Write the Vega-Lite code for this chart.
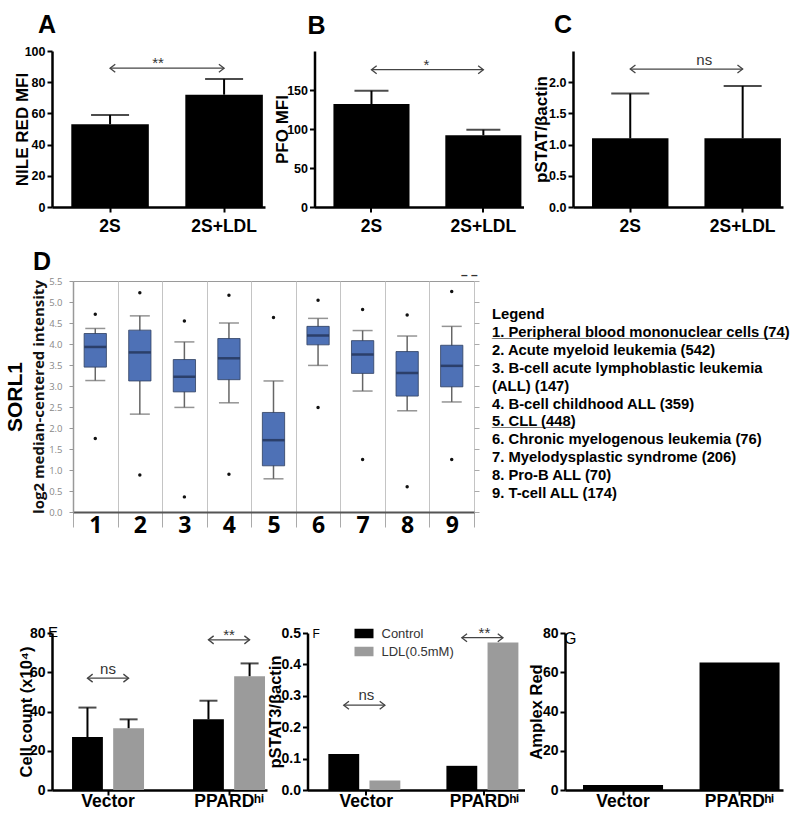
{
  "$schema": "https://vega.github.io/schema/vega-lite/v6.json",
  "background": "white",
  "padding": {"left": 3, "top": 13, "right": 0, "bottom": 0},
  "autosize": {"type": "pad"},
  "datasets": {
    "dA": [{"g": "2S", "v": 53, "hi": 59}, {"g": "2S+LDL", "v": 72, "hi": 82}],
    "aA": [{"g": "2S", "y": 89, "end": "L"}, {"g": "2S+LDL", "y": 89, "end": "R"}],
    "tA": [{"g": "2S", "y": 89, "s": "**"}],
    "dB": [{"g": "2S", "v": 132, "hi": 149}, {"g": "2S+LDL", "v": 92, "hi": 99}],
    "aB": [{"g": "2S", "y": 176, "end": "L"}, {"g": "2S+LDL", "y": 176, "end": "R"}],
    "tB": [{"g": "2S", "y": 176, "s": "*"}],
    "dC": [{"g": "2S", "v": 1.1, "hi": 1.82}, {"g": "2S+LDL", "v": 1.1, "hi": 1.94}],
    "aC": [{"g": "2S", "y": 2.21, "end": "L"}, {"g": "2S+LDL", "y": 2.21, "end": "R"}],
    "tC": [{"g": "2S", "y": 2.27, "s": "ns"}],
    "box": [
      {"c": "1", "lo": 3.13, "q1": 3.45, "med": 3.93, "q3": 4.25, "hi": 4.37},
      {"c": "2", "lo": 2.33, "q1": 3.12, "med": 3.8, "q3": 4.33, "hi": 4.67},
      {"c": "3", "lo": 2.49, "q1": 2.86, "med": 3.22, "q3": 3.63, "hi": 4.05},
      {"c": "4", "lo": 2.6, "q1": 3.15, "med": 3.66, "q3": 4.13, "hi": 4.5},
      {"c": "5", "lo": 0.79, "q1": 1.1, "med": 1.71, "q3": 2.37, "hi": 3.12},
      {"c": "6", "lo": 3.49, "q1": 3.98, "med": 4.2, "q3": 4.42, "hi": 4.61},
      {"c": "7", "lo": 2.88, "q1": 3.3, "med": 3.75, "q3": 4.08, "hi": 4.32},
      {"c": "8", "lo": 2.41, "q1": 2.76, "med": 3.31, "q3": 3.82, "hi": 4.19},
      {"c": "9", "lo": 2.62, "q1": 2.98, "med": 3.48, "q3": 3.97, "hi": 4.42}
    ],
    "out": [
      {"c": "1", "o": 4.71}, {"c": "1", "o": 1.75},
      {"c": "2", "o": 5.22}, {"c": "2", "o": 0.88},
      {"c": "3", "o": 4.55}, {"c": "3", "o": 0.36},
      {"c": "4", "o": 5.16}, {"c": "4", "o": 0.9},
      {"c": "5", "o": 4.63},
      {"c": "6", "o": 5.04}, {"c": "6", "o": 2.49},
      {"c": "7", "o": 4.82}, {"c": "7", "o": 1.25},
      {"c": "8", "o": 4.69}, {"c": "8", "o": 0.6},
      {"c": "9", "o": 5.25}, {"c": "9", "o": 1.25}
    ],
    "leg": [
      {"n": 0, "s": "Legend", "u": ""},
      {"n": 1, "s": "1. Peripheral blood mononuclear cells (74)", "u": "____________________________________"},
      {"n": 2, "s": "2. Acute myeloid leukemia (542)", "u": ""},
      {"n": 3, "s": "3. B-cell acute lymphoblastic leukemia", "u": ""},
      {"n": 4, "s": "(ALL) (147)", "u": ""},
      {"n": 5, "s": "4. B-cell childhood ALL (359)", "u": ""},
      {"n": 6, "s": "5. CLL (448)", "u": "__________"},
      {"n": 7, "s": "6. Chronic myelogenous leukemia (76)", "u": ""},
      {"n": 8, "s": "7. Myelodysplastic syndrome (206)", "u": ""},
      {"n": 9, "s": "8. Pro-B ALL (70)", "u": ""},
      {"n": 10, "s": "9. T-cell ALL (174)", "u": ""}
    ],
    "dE": [
      {"g": "Vector", "t": "Control", "v": 27, "hi": 42},
      {"g": "Vector", "t": "LDL(0.5mM)", "v": 31.5, "hi": 36},
      {"g": "PPARDʰⁱ", "t": "Control", "v": 36, "hi": 45.5},
      {"g": "PPARDʰⁱ", "t": "LDL(0.5mM)", "v": 58, "hi": 64.5}
    ],
    "aE": [
      {"g": "Vector", "t": "Control", "y": 57, "end": "L"},
      {"g": "Vector", "t": "LDL(0.5mM)", "y": 57, "end": "R"},
      {"g": "PPARDʰⁱ", "t": "Control", "y": 76.5, "end": "L"},
      {"g": "PPARDʰⁱ", "t": "LDL(0.5mM)", "y": 76.5, "end": "R"}
    ],
    "tE": [{"g": "Vector", "y": 59, "s": "ns"}, {"g": "PPARDʰⁱ", "y": 76.5, "s": "**"}],
    "dF": [
      {"g": "Vector", "t": "Control", "v": 0.115},
      {"g": "Vector", "t": "LDL(0.5mM)", "v": 0.03},
      {"g": "PPARDʰⁱ", "t": "Control", "v": 0.077},
      {"g": "PPARDʰⁱ", "t": "LDL(0.5mM)", "v": 0.47}
    ],
    "aF": [
      {"g": "Vector", "t": "Control", "y": 0.27, "end": "L"},
      {"g": "Vector", "t": "LDL(0.5mM)", "y": 0.27, "end": "R"},
      {"g": "PPARDʰⁱ", "t": "Control", "y": 0.485, "end": "L"},
      {"g": "PPARDʰⁱ", "t": "LDL(0.5mM)", "y": 0.485, "end": "R"}
    ],
    "tF": [{"g": "Vector", "y": 0.286, "s": "ns"}, {"g": "PPARDʰⁱ", "y": 0.485, "s": "**"}],
    "dG": [{"g": "Vector", "v": 2.5}, {"g": "PPARDʰⁱ", "v": 65}],
    "blank": [{"k": 0}]
  },
  "vconcat": [
    {
      "hconcat": [
        {
          "width": 213, "height": 156,
          "title": {"text": "A", "fontSize": 25, "dx": -14, "offset": -13, "baseline": "alphabetic"},
          "layer": [
            {"data": {"name": "dA"}, "mark": {"type": "bar", "color": "#000"},
             "encoding": {
               "x": {"field": "g", "type": "nominal", "sort": null, "scale": {"paddingInner": 0.32, "paddingOuter": 0.094, "align": 0.9}, "axis": {"title": null, "labelAngle": 0, "labelFontSize": 17.5, "labelPadding": 5}},
               "y": {"field": "v", "type": "quantitative", "scale": {"domain": [0, 100], "nice": false}, "axis": {"values": [0, 20, 40, 60, 80, 100], "labelOverlap": false, "title": "NILE RED MFI", "titleFontSize": 17, "labelFontSize": 12.5, "titlePadding": -7}}}},
            {"data": {"name": "dA"}, "mark": {"type": "rule", "color": "#000", "strokeWidth": 2},
             "encoding": {"x": {"field": "g", "type": "nominal", "sort": null, "axis": {"title": null, "labelAngle": 0, "labelFontSize": 17.5, "labelPadding": 5}}, "y": {"field": "v", "type": "quantitative", "axis": {"values": [0, 20, 40, 60, 80, 100], "labelOverlap": false, "title": "NILE RED MFI", "titleFontSize": 17, "labelFontSize": 12.5, "titlePadding": -7}}, "y2": {"field": "hi"}}},
            {"data": {"name": "dA"}, "mark": {"type": "tick", "color": "#000", "thickness": 2, "size": 38},
             "encoding": {"x": {"field": "g", "type": "nominal", "sort": null, "axis": {"title": null, "labelAngle": 0, "labelFontSize": 17.5, "labelPadding": 5}}, "y": {"field": "hi", "type": "quantitative", "axis": {"values": [0, 20, 40, 60, 80, 100], "labelOverlap": false, "title": "NILE RED MFI", "titleFontSize": 17, "labelFontSize": 12.5, "titlePadding": -7}}}},
            {"data": {"name": "aA"}, "mark": {"type": "line", "color": "#444", "strokeWidth": 1.3},
             "encoding": {"x": {"field": "g", "type": "nominal", "sort": null, "axis": {"title": null, "labelAngle": 0, "labelFontSize": 17.5, "labelPadding": 5}}, "y": {"field": "y", "type": "quantitative", "axis": {"values": [0, 20, 40, 60, 80, 100], "labelOverlap": false, "title": "NILE RED MFI", "titleFontSize": 17, "labelFontSize": 12.5, "titlePadding": -7}}}},
            {"data": {"name": "aA"}, "mark": {"type": "point", "filled": false, "color": "#444", "strokeWidth": 1.3, "size": 64, "opacity": 1},
             "encoding": {"x": {"field": "g", "type": "nominal", "sort": null, "axis": {"title": null, "labelAngle": 0, "labelFontSize": 17.5, "labelPadding": 5}}, "y": {"field": "y", "type": "quantitative", "axis": {"values": [0, 20, 40, 60, 80, 100], "labelOverlap": false, "title": "NILE RED MFI", "titleFontSize": 17, "labelFontSize": 12.5, "titlePadding": -7}},
               "shape": {"field": "end", "type": "nominal", "scale": {"domain": ["L", "R"], "range": ["M1.3,-1L0,0L1.3,1", "M-1.3,-1L0,0L-1.3,1"]}, "legend": null}}},
            {"data": {"name": "tA"}, "mark": {"type": "text", "dx": 48, "fontSize": 15, "color": "#333", "baseline": "alphabetic"},
             "encoding": {"x": {"field": "g", "type": "nominal", "sort": null, "axis": {"title": null, "labelAngle": 0, "labelFontSize": 17.5, "labelPadding": 5}}, "y": {"field": "y", "type": "quantitative", "axis": {"values": [0, 20, 40, 60, 80, 100], "labelOverlap": false, "title": "NILE RED MFI", "titleFontSize": 17, "labelFontSize": 12.5, "titlePadding": -7}}, "text": {"field": "s"}}}
          ]
        },
        {
          "width": 209, "height": 156,
          "title": {"text": "B", "fontSize": 25, "dx": -7, "offset": -8, "baseline": "alphabetic"},
          "layer": [
            {"data": {"name": "dB"}, "mark": {"type": "bar", "color": "#000"},
             "encoding": {
               "x": {"field": "g", "type": "nominal", "sort": null, "scale": {"paddingInner": 0.32, "paddingOuter": 0.094, "align": 0.9}, "axis": {"title": null, "labelAngle": 0, "labelFontSize": 17.5, "labelPadding": 5}},
               "y": {"field": "v", "type": "quantitative", "scale": {"domain": [0, 200], "nice": false}, "axis": {"values": [0, 50, 100, 150], "labelOverlap": false, "title": "PFO MFI", "titleFontSize": 17, "labelFontSize": 12.5, "titlePadding": -5}}}},
            {"data": {"name": "dB"}, "mark": {"type": "rule", "color": "#000", "strokeWidth": 2},
             "encoding": {"x": {"field": "g", "type": "nominal", "sort": null, "axis": {"title": null, "labelAngle": 0, "labelFontSize": 17.5, "labelPadding": 5}}, "y": {"field": "v", "type": "quantitative", "axis": {"values": [0, 50, 100, 150], "labelOverlap": false, "title": "PFO MFI", "titleFontSize": 17, "labelFontSize": 12.5, "titlePadding": -5}}, "y2": {"field": "hi"}}},
            {"data": {"name": "dB"}, "mark": {"type": "tick", "color": "#000", "thickness": 2, "size": 34},
             "encoding": {"x": {"field": "g", "type": "nominal", "sort": null, "axis": {"title": null, "labelAngle": 0, "labelFontSize": 17.5, "labelPadding": 5}}, "y": {"field": "hi", "type": "quantitative", "axis": {"values": [0, 50, 100, 150], "labelOverlap": false, "title": "PFO MFI", "titleFontSize": 17, "labelFontSize": 12.5, "titlePadding": -5}}}},
            {"data": {"name": "aB"}, "mark": {"type": "line", "color": "#444", "strokeWidth": 1.3},
             "encoding": {"x": {"field": "g", "type": "nominal", "sort": null, "axis": {"title": null, "labelAngle": 0, "labelFontSize": 17.5, "labelPadding": 5}}, "y": {"field": "y", "type": "quantitative", "axis": {"values": [0, 50, 100, 150], "labelOverlap": false, "title": "PFO MFI", "titleFontSize": 17, "labelFontSize": 12.5, "titlePadding": -5}}}},
            {"data": {"name": "aB"}, "mark": {"type": "point", "filled": false, "color": "#444", "strokeWidth": 1.3, "size": 64, "opacity": 1},
             "encoding": {"x": {"field": "g", "type": "nominal", "sort": null, "axis": {"title": null, "labelAngle": 0, "labelFontSize": 17.5, "labelPadding": 5}}, "y": {"field": "y", "type": "quantitative", "axis": {"values": [0, 50, 100, 150], "labelOverlap": false, "title": "PFO MFI", "titleFontSize": 17, "labelFontSize": 12.5, "titlePadding": -5}},
               "shape": {"field": "end", "type": "nominal", "scale": {"domain": ["L", "R"], "range": ["M1.3,-1L0,0L1.3,1", "M-1.3,-1L0,0L-1.3,1"]}, "legend": null}}},
            {"data": {"name": "tB"}, "mark": {"type": "text", "dx": 55, "fontSize": 15, "color": "#333", "baseline": "alphabetic"},
             "encoding": {"x": {"field": "g", "type": "nominal", "sort": null, "axis": {"title": null, "labelAngle": 0, "labelFontSize": 17.5, "labelPadding": 5}}, "y": {"field": "y", "type": "quantitative", "axis": {"values": [0, 50, 100, 150], "labelOverlap": false, "title": "PFO MFI", "titleFontSize": 17, "labelFontSize": 12.5, "titlePadding": -5}}, "text": {"field": "s"}}}
          ]
        },
        {
          "width": 210, "height": 156,
          "title": {"text": "C", "fontSize": 25, "dx": -19, "offset": -7, "baseline": "alphabetic"},
          "layer": [
            {"data": {"name": "dC"}, "mark": {"type": "bar", "color": "#000"},
             "encoding": {
               "x": {"field": "g", "type": "nominal", "sort": null, "scale": {"paddingInner": 0.32, "paddingOuter": 0.094, "align": 0.9}, "axis": {"title": null, "labelAngle": 0, "labelFontSize": 17.5, "labelPadding": 5}},
               "y": {"field": "v", "type": "quantitative", "scale": {"domain": [0, 2.5], "nice": false}, "axis": {"values": [0, 0.5, 1, 1.5, 2], "labelOverlap": false, "format": ".1f", "title": "pSTAT/βactin", "titleFontSize": 17, "labelFontSize": 12.5, "titlePadding": -2}}}},
            {"data": {"name": "dC"}, "mark": {"type": "rule", "color": "#000", "strokeWidth": 2},
             "encoding": {"x": {"field": "g", "type": "nominal", "sort": null, "axis": {"title": null, "labelAngle": 0, "labelFontSize": 17.5, "labelPadding": 5}}, "y": {"field": "v", "type": "quantitative", "axis": {"values": [0, 0.5, 1, 1.5, 2], "labelOverlap": false, "format": ".1f", "title": "pSTAT/βactin", "titleFontSize": 17, "labelFontSize": 12.5, "titlePadding": -2}}, "y2": {"field": "hi"}}},
            {"data": {"name": "dC"}, "mark": {"type": "tick", "color": "#000", "thickness": 2, "size": 38},
             "encoding": {"x": {"field": "g", "type": "nominal", "sort": null, "axis": {"title": null, "labelAngle": 0, "labelFontSize": 17.5, "labelPadding": 5}}, "y": {"field": "hi", "type": "quantitative", "axis": {"values": [0, 0.5, 1, 1.5, 2], "labelOverlap": false, "format": ".1f", "title": "pSTAT/βactin", "titleFontSize": 17, "labelFontSize": 12.5, "titlePadding": -2}}}},
            {"data": {"name": "aC"}, "mark": {"type": "line", "color": "#444", "strokeWidth": 1.3},
             "encoding": {"x": {"field": "g", "type": "nominal", "sort": null, "axis": {"title": null, "labelAngle": 0, "labelFontSize": 17.5, "labelPadding": 5}}, "y": {"field": "y", "type": "quantitative", "axis": {"values": [0, 0.5, 1, 1.5, 2], "labelOverlap": false, "format": ".1f", "title": "pSTAT/βactin", "titleFontSize": 17, "labelFontSize": 12.5, "titlePadding": -2}}}},
            {"data": {"name": "aC"}, "mark": {"type": "point", "filled": false, "color": "#444", "strokeWidth": 1.3, "size": 64, "opacity": 1},
             "encoding": {"x": {"field": "g", "type": "nominal", "sort": null, "axis": {"title": null, "labelAngle": 0, "labelFontSize": 17.5, "labelPadding": 5}}, "y": {"field": "y", "type": "quantitative", "axis": {"values": [0, 0.5, 1, 1.5, 2], "labelOverlap": false, "format": ".1f", "title": "pSTAT/βactin", "titleFontSize": 17, "labelFontSize": 12.5, "titlePadding": -2}},
               "shape": {"field": "end", "type": "nominal", "scale": {"domain": ["L", "R"], "range": ["M1.3,-1L0,0L1.3,1", "M-1.3,-1L0,0L-1.3,1"]}, "legend": null}}},
            {"data": {"name": "tC"}, "mark": {"type": "text", "dx": 74, "fontSize": 15, "color": "#333", "baseline": "alphabetic"},
             "encoding": {"x": {"field": "g", "type": "nominal", "sort": null, "axis": {"title": null, "labelAngle": 0, "labelFontSize": 17.5, "labelPadding": 5}}, "y": {"field": "y", "type": "quantitative", "axis": {"values": [0, 0.5, 1, 1.5, 2], "labelOverlap": false, "format": ".1f", "title": "pSTAT/βactin", "titleFontSize": 17, "labelFontSize": 12.5, "titlePadding": -2}}, "text": {"field": "s"}}}
          ]
        }
      ],
      "spacing": 49.5,
      "bounds": "flush"
    },
    {
      "hconcat": [
        {
          "width": 3, "height": 1,
          "data": {"name": "blank"},
          "mark": {"type": "text", "text": ""},
          "encoding": {}
        },
        {
          "width": 401, "height": 231,
          "view": {"stroke": "#9a9a9a", "strokeWidth": 1},
          "title": {"text": "D", "fontSize": 25, "dx": -40, "offset": -19, "baseline": "alphabetic"},
          "resolve": {"scale": {"y": "independent"}},
          "layer": [
            {"data": {"name": "box"}, "mark": {"type": "rule", "color": "#666", "strokeWidth": 1.5},
             "encoding": {
               "x": {"field": "c", "type": "nominal", "sort": null, "scale": {"paddingInner": 0, "paddingOuter": 0},
                 "axis": {"title": null, "labelAngle": 0, "labelFont": "Open Sans", "labelFontSize": 23, "labelPadding": -13, "tickBand": "extent", "tickSize": 15, "tickColor": "#aaa", "tickWidth": 1, "grid": true, "gridColor": "#c4c4c4", "gridWidth": 1, "domainColor": "#555", "domainWidth": 2}},
               "y": {"field": "lo", "type": "quantitative", "scale": {"domain": [0, 5.5], "nice": false},
                 "axis": {"orient": "left", "values": [0, 0.5, 1, 1.5, 2, 2.5, 3, 3.5, 4, 4.5, 5, 5.5], "labelOverlap": false, "format": ".1f", "labelFont": "Open Sans", "labelFontWeight": "normal", "labelFontSize": 9.5, "labelColor": "#888", "labelPadding": 7, "tickColor": "#999", "tickWidth": 1, "tickSize": 4, "domainColor": "#999", "domainWidth": 1.5, "title": "log2 median-centered intensity", "titleFont": "Open Sans", "titleFontSize": 15, "titlePadding": 2, "titleColor": "#111"}},
               "y2": {"field": "hi"}}},
            {"data": {"name": "box"}, "mark": {"type": "bar", "color": "#4e71b6", "stroke": "#2f3f5f", "strokeWidth": 0.8, "width": {"band": 0.5}},
             "encoding": {
               "x": {"field": "c", "type": "nominal", "sort": null},
               "y": {"field": "q1", "type": "quantitative", "scale": {"domain": [0, 5.5], "nice": false},
                 "axis": {"orient": "left", "labels": false, "ticks": false, "domain": false, "grid": false, "title": "SORL1", "titleFontSize": 21, "titlePadding": 48}},
               "y2": {"field": "q3"}}},
            {"data": {"name": "box"}, "mark": {"type": "tick", "color": "#666", "thickness": 1.5, "size": 20},
             "encoding": {"x": {"field": "c", "type": "nominal", "sort": null}, "y": {"field": "lo", "type": "quantitative", "scale": {"domain": [0, 5.5], "nice": false}, "axis": null}}},
            {"data": {"name": "box"}, "mark": {"type": "tick", "color": "#666", "thickness": 1.5, "size": 20},
             "encoding": {"x": {"field": "c", "type": "nominal", "sort": null}, "y": {"field": "hi", "type": "quantitative", "scale": {"domain": [0, 5.5], "nice": false}, "axis": null}}},
            {"data": {"name": "box"}, "mark": {"type": "tick", "color": "#1c2b4a", "thickness": 2.5, "size": 22},
             "encoding": {"x": {"field": "c", "type": "nominal", "sort": null}, "y": {"field": "med", "type": "quantitative", "scale": {"domain": [0, 5.5], "nice": false}, "axis": null}}},
            {"data": {"name": "out"}, "mark": {"type": "circle", "color": "#111", "size": 12, "opacity": 1},
             "encoding": {"x": {"field": "c", "type": "nominal", "sort": null},
               "y": {"field": "o", "type": "quantitative", "scale": {"domain": [0, 5.5], "nice": false},
                 "axis": {"orient": "right", "labels": false, "title": null, "domain": false, "grid": false, "values": [0, 0.5, 1, 1.5, 2, 2.5, 3, 3.5, 4, 4.5, 5, 5.5], "tickColor": "#aaa", "tickWidth": 1, "tickSize": 5}}}}
          ]
        },
        {
          "width": 258, "height": 329,
          "title": {"text": "– –", "fontSize": 12, "dx": -31, "offset": -10, "baseline": "alphabetic", "color": "#333"},
          "layer": [
            {"data": {"name": "leg"}, "mark": {"type": "text", "align": "left", "baseline": "middle", "fontSize": 14.8, "fontWeight": "bold", "font": "Liberation Sans", "color": "#000"},
             "encoding": {
               "x": {"datum": 0, "type": "quantitative", "scale": {"domain": [0, 1]}, "axis": null},
               "y": {"field": "n", "type": "quantitative", "scale": {"domain": [-1.9, 16.48], "reverse": true, "nice": false, "zero": false}, "axis": null},
               "text": {"field": "s", "type": "nominal"}}},
            {"data": {"name": "leg"}, "transform": [{"filter": "datum.u != ''"}],
             "mark": {"type": "text", "align": "left", "baseline": "middle", "fontSize": 14.8, "fontWeight": "bold", "font": "Liberation Sans", "color": "#000"},
             "encoding": {
               "x": {"datum": 0, "type": "quantitative", "axis": null},
               "y": {"field": "n", "type": "quantitative", "axis": null},
               "text": {"field": "u", "type": "nominal"}}}
          ]
        }
      ],
      "spacing": 18,
      "bounds": "flush"
    },
    {
      "hconcat": [
        {
          "width": 215, "height": 157,
          "title": {"text": "E", "fontSize": 15, "fontWeight": "normal", "dx": -4, "offset": -26, "baseline": "alphabetic"},
          "layer": [
            {"data": {"name": "dE"}, "mark": {"type": "bar"},
             "encoding": {
               "x": {"field": "g", "type": "nominal", "sort": ["Vector", "PPARDʰⁱ"], "scale": {"paddingInner": 0.405, "paddingOuter": 0.091, "align": 0.91}, "axis": {"title": null, "labelAngle": 0, "labelFontSize": 17.5, "labelPadding": -3}},
               "xOffset": {"field": "t", "type": "nominal", "scale": {"domain": ["Control", "LDL(0.5mM)"], "paddingInner": 0.25, "paddingOuter": 0}},
               "y": {"field": "v", "type": "quantitative", "scale": {"domain": [0, 80], "nice": false}, "axis": {"values": [0, 20, 40, 60, 80], "labelOverlap": false, "title": "Cell count (x10⁴)", "titleFontSize": 16.5, "labelFontSize": 14, "titlePadding": -5}},
               "color": {"field": "t", "type": "nominal", "scale": {"domain": ["Control", "LDL(0.5mM)"], "range": ["#000000", "#9b9b9b"]}, "legend": null}}},
            {"data": {"name": "dE"}, "mark": {"type": "rule", "color": "#000", "strokeWidth": 2},
             "encoding": {"x": {"field": "g", "type": "nominal", "sort": ["Vector", "PPARDʰⁱ"], "axis": {"title": null, "labelAngle": 0, "labelFontSize": 17.5, "labelPadding": -3}}, "xOffset": {"field": "t", "type": "nominal"}, "y": {"field": "v", "type": "quantitative", "axis": {"values": [0, 20, 40, 60, 80], "labelOverlap": false, "title": "Cell count (x10⁴)", "titleFontSize": 16.5, "labelFontSize": 14, "titlePadding": -5}}, "y2": {"field": "hi"}}},
            {"data": {"name": "dE"}, "mark": {"type": "tick", "color": "#000", "thickness": 2, "size": 18},
             "encoding": {"x": {"field": "g", "type": "nominal", "sort": ["Vector", "PPARDʰⁱ"], "axis": {"title": null, "labelAngle": 0, "labelFontSize": 17.5, "labelPadding": -3}}, "xOffset": {"field": "t", "type": "nominal"}, "y": {"field": "hi", "type": "quantitative", "axis": {"values": [0, 20, 40, 60, 80], "labelOverlap": false, "title": "Cell count (x10⁴)", "titleFontSize": 16.5, "labelFontSize": 14, "titlePadding": -5}}}},
            {"data": {"name": "aE"}, "mark": {"type": "line", "color": "#444", "strokeWidth": 1.3},
             "encoding": {"x": {"field": "g", "type": "nominal", "sort": ["Vector", "PPARDʰⁱ"], "axis": {"title": null, "labelAngle": 0, "labelFontSize": 17.5, "labelPadding": -3}}, "xOffset": {"field": "t", "type": "nominal"}, "y": {"field": "y", "type": "quantitative", "axis": {"values": [0, 20, 40, 60, 80], "labelOverlap": false, "title": "Cell count (x10⁴)", "titleFontSize": 16.5, "labelFontSize": 14, "titlePadding": -5}}, "detail": {"field": "g"}}},
            {"data": {"name": "aE"}, "mark": {"type": "point", "filled": false, "color": "#444", "strokeWidth": 1.3, "size": 64, "opacity": 1},
             "encoding": {"x": {"field": "g", "type": "nominal", "sort": ["Vector", "PPARDʰⁱ"], "axis": {"title": null, "labelAngle": 0, "labelFontSize": 17.5, "labelPadding": -3}}, "xOffset": {"field": "t", "type": "nominal"}, "y": {"field": "y", "type": "quantitative", "axis": {"values": [0, 20, 40, 60, 80], "labelOverlap": false, "title": "Cell count (x10⁴)", "titleFontSize": 16.5, "labelFontSize": 14, "titlePadding": -5}},
               "shape": {"field": "end", "type": "nominal", "scale": {"domain": ["L", "R"], "range": ["M1.3,-1L0,0L1.3,1", "M-1.3,-1L0,0L-1.3,1"]}, "legend": null}}},
            {"data": {"name": "tE"}, "mark": {"type": "text", "fontSize": 15, "color": "#333", "baseline": "alphabetic"},
             "encoding": {"x": {"field": "g", "type": "nominal", "sort": ["Vector", "PPARDʰⁱ"], "axis": {"title": null, "labelAngle": 0, "labelFontSize": 17.5, "labelPadding": -3}}, "y": {"field": "y", "type": "quantitative", "axis": {"values": [0, 20, 40, 60, 80], "labelOverlap": false, "title": "Cell count (x10⁴)", "titleFontSize": 16.5, "labelFontSize": 14, "titlePadding": -5}}, "text": {"field": "s"}}}
          ]
        },
        {
          "width": 217, "height": 157,
          "title": {"text": "F", "fontSize": 12, "fontWeight": "normal", "dx": 5, "offset": -26, "baseline": "alphabetic"},
          "layer": [
            {"data": {"name": "dF"}, "mark": {"type": "bar"},
             "encoding": {
               "x": {"field": "g", "type": "nominal", "sort": ["Vector", "PPARDʰⁱ"], "scale": {"paddingInner": 0.356, "paddingOuter": 0.097, "align": 0.91}, "axis": {"title": null, "labelAngle": 0, "labelFontSize": 17.5, "labelPadding": -3}},
               "xOffset": {"field": "t", "type": "nominal", "scale": {"domain": ["Control", "LDL(0.5mM)"], "paddingInner": 0.27, "paddingOuter": 0}},
               "y": {"field": "v", "type": "quantitative", "scale": {"domain": [0, 0.5], "nice": false}, "axis": {"values": [0, 0.1, 0.2, 0.3, 0.4, 0.5], "labelOverlap": false, "format": ".1f", "title": "pSTAT3/βactin", "titleFontSize": 16.5, "labelFontSize": 14, "titlePadding": -2}},
               "color": {"field": "t", "type": "nominal", "scale": {"domain": ["Control", "LDL(0.5mM)"], "range": ["#000000", "#9b9b9b"]},
                 "legend": {"title": null, "orient": "none", "legendX": 47, "legendY": -9, "symbolType": "M-1,-0.5H1V0.5H-1Z", "symbolSize": 361, "symbolStrokeWidth": 0, "labelFont": "Liberation Sans", "labelFontSize": 13, "labelFontWeight": "normal", "labelColor": "#333", "labelOffset": 8, "rowPadding": 1}}}},
            {"data": {"name": "aF"}, "mark": {"type": "line", "color": "#444", "strokeWidth": 1.3},
             "encoding": {"x": {"field": "g", "type": "nominal", "sort": ["Vector", "PPARDʰⁱ"], "axis": {"title": null, "labelAngle": 0, "labelFontSize": 17.5, "labelPadding": -3}}, "xOffset": {"field": "t", "type": "nominal"}, "y": {"field": "y", "type": "quantitative", "axis": {"values": [0, 0.1, 0.2, 0.3, 0.4, 0.5], "labelOverlap": false, "format": ".1f", "title": "pSTAT3/βactin", "titleFontSize": 16.5, "labelFontSize": 14, "titlePadding": -2}}, "detail": {"field": "g"}}},
            {"data": {"name": "aF"}, "mark": {"type": "point", "filled": false, "color": "#444", "strokeWidth": 1.3, "size": 64, "opacity": 1},
             "encoding": {"x": {"field": "g", "type": "nominal", "sort": ["Vector", "PPARDʰⁱ"], "axis": {"title": null, "labelAngle": 0, "labelFontSize": 17.5, "labelPadding": -3}}, "xOffset": {"field": "t", "type": "nominal"}, "y": {"field": "y", "type": "quantitative", "axis": {"values": [0, 0.1, 0.2, 0.3, 0.4, 0.5], "labelOverlap": false, "format": ".1f", "title": "pSTAT3/βactin", "titleFontSize": 16.5, "labelFontSize": 14, "titlePadding": -2}},
               "shape": {"field": "end", "type": "nominal", "scale": {"domain": ["L", "R"], "range": ["M1.3,-1L0,0L1.3,1", "M-1.3,-1L0,0L-1.3,1"]}, "legend": null}}},
            {"data": {"name": "tF"}, "mark": {"type": "text", "fontSize": 15, "color": "#333", "baseline": "alphabetic"},
             "encoding": {"x": {"field": "g", "type": "nominal", "sort": ["Vector", "PPARDʰⁱ"], "axis": {"title": null, "labelAngle": 0, "labelFontSize": 17.5, "labelPadding": -3}}, "y": {"field": "y", "type": "quantitative", "axis": {"values": [0, 0.1, 0.2, 0.3, 0.4, 0.5], "labelOverlap": false, "format": ".1f", "title": "pSTAT3/βactin", "titleFontSize": 16.5, "labelFontSize": 14, "titlePadding": -2}}, "text": {"field": "s"}}}
          ]
        },
        {
          "width": 218, "height": 157,
          "title": {"text": "G", "fontSize": 16, "fontWeight": "normal", "dx": -1, "offset": -34, "baseline": "alphabetic"},
          "layer": [
            {"data": {"name": "dG"}, "mark": {"type": "bar", "color": "#000"},
             "encoding": {
               "x": {"field": "g", "type": "nominal", "sort": ["Vector", "PPARDʰⁱ"], "scale": {"paddingInner": 0.313, "paddingOuter": 0.092, "align": 0.84}, "axis": {"title": null, "labelAngle": 0, "labelFontSize": 17.5, "labelPadding": -3}},
               "y": {"field": "v", "type": "quantitative", "scale": {"domain": [0, 80], "nice": false}, "axis": {"values": [0, 20, 40, 60, 80], "labelOverlap": false, "title": "Amplex Red", "titleFontSize": 16.5, "labelFontSize": 14, "titlePadding": -2}}}}
          ]
        }
      ],
      "spacing": 40.5,
      "bounds": "flush",
      "resolve": {"scale": {"color": "independent"}, "legend": {"color": "independent"}}
    }
  ],
  "spacing": 14,
  "config": {
    "view": {"stroke": null},
    "font": "Liberation Sans",
    "axis": {"labelFont": "Liberation Sans", "labelFontWeight": "bold", "labelColor": "#000", "titleFont": "Liberation Sans", "titleFontWeight": "bold", "titleColor": "#000", "domainColor": "#000", "domainWidth": 2.5, "tickColor": "#000", "tickWidth": 2, "tickSize": 5, "grid": false, "labelPadding": 2, "labelOverlap": false},
    "title": {"font": "Liberation Sans", "fontWeight": "bold", "anchor": "start", "color": "#000", "frame": "group"}
  }
}
